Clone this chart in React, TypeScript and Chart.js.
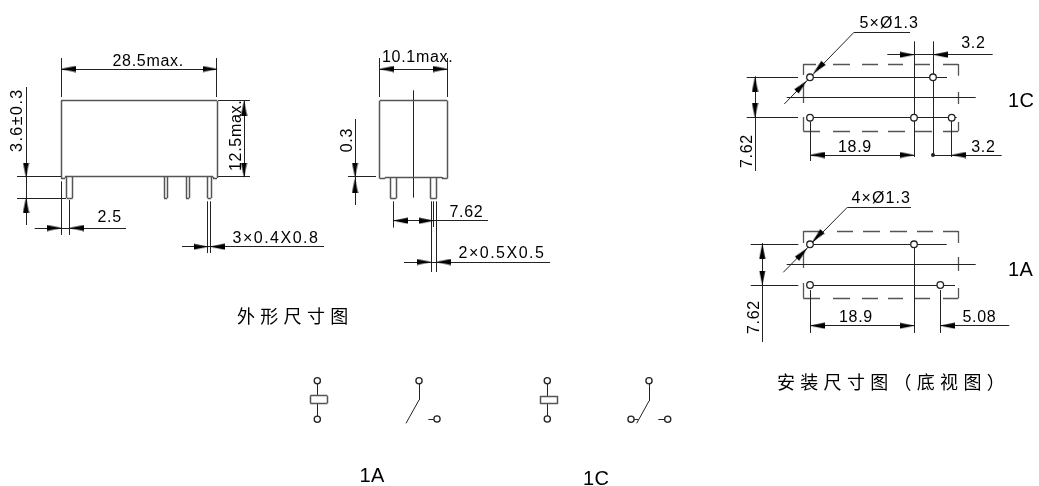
import React, { useEffect, useRef } from "react";
import { Chart, registerables } from "chart.js";

Chart.register(...registerables);

// Drawing segments in drawing units: [x1, y1, x2, y2]
const bodyLines = [
  // front view body
  [61, 100.7, 217, 100.7], [61, 100.7, 61, 178], [217, 100.7, 217, 178], [61, 178, 65, 178], [65, 178, 65, 176.7], [65, 176.7, 213, 176.7], [213, 176.7, 213, 178], [213, 178, 217, 178],
  // front view pins
  [66.7, 177, 66.7, 198], [72.7, 177, 72.7, 198], [66.7, 198, 72.7, 198],
  [164, 177, 164, 198], [167.3, 177, 167.3, 198], [164, 198, 167.3, 198],
  [186, 177, 186, 198], [189.3, 177, 189.3, 198], [186, 198, 189.3, 198],
  [207.6, 177, 207.6, 198], [211.2, 177, 211.2, 198], [207.6, 198, 211.2, 198],
  // side view body
  [379.7, 100.7, 447.3, 100.7], [379.7, 100.7, 379.7, 178.5], [447.3, 100.7, 447.3, 178.5], [379.7, 178.5, 385, 178.5], [385, 178.5, 385, 177], [385, 177, 442, 177], [442, 177, 442, 178.5], [442, 178.5, 447.3, 178.5],
  // side view pins
  [390.3, 177, 390.3, 198.3], [396.3, 177, 396.3, 198.3], [390.3, 198.3, 396.3, 198.3],
  [430.3, 177, 430.3, 198.3], [436.7, 177, 436.7, 198.3], [430.3, 198.3, 436.7, 198.3],
  // coil boxes
  [310.3, 395.7, 327.3, 395.7], [327.3, 395.7, 327.3, 403.3], [327.3, 403.3, 310.3, 403.3], [310.3, 403.3, 310.3, 395.7],
  [540.3, 396, 557.7, 396], [557.7, 396, 557.7, 403.7], [557.7, 403.7, 540.3, 403.7], [540.3, 403.7, 540.3, 396],
];

const thinLines = [
  // 28.5max
  [61, 58, 61, 97], [216.8, 58, 216.8, 97], [61, 69, 217, 69],
  // 12.5max
  [218, 100.7, 250, 100.7], [218, 176.7, 250, 176.7], [244, 101, 244, 177],
  // 3.6±0.3
  [26, 87, 26, 225], [17, 176.7, 61, 176.7], [17, 198, 66, 198],
  // 2.5
  [61, 181.7, 61, 235], [69.7, 200, 69.7, 235], [34.7, 228, 126, 228],
  // 3×0.4X0.8
  [207.7, 201.7, 207.7, 253], [210.3, 201.7, 210.3, 253], [182, 246.7, 324, 246.7],
  // 10.1max
  [379.7, 58, 379.7, 96.7], [447.3, 58, 447.3, 96.7], [380, 69, 447, 69],
  // side centre line
  [413.7, 90.7, 413.7, 197.3],
  // 0.3
  [355, 119, 355, 205], [348, 176.7, 376, 176.7],
  // 7.62 side
  [393.3, 201.7, 393.3, 227.3], [431, 201.7, 431, 271.7], [436.3, 201.7, 436.3, 271.7], [433.7, 201.7, 433.7, 227], [393.3, 220.7, 488, 220.7],
  // 2×0.5X0.5
  [404, 262, 550, 262],
  // 1C footprint
  [746.7, 77.3, 798, 77.3], [813, 77.3, 947, 77.3], [746.7, 117.7, 798, 117.7], [813, 117.7, 956.7, 117.7], [786.7, 97.7, 975.7, 97.7],
  [854, 32.3, 784.3, 104], [854, 32.3, 910, 32.3],
  [914, 41.7, 914, 156.7], [933, 41.7, 933, 155], [951.7, 121.7, 951.7, 156.7], [810, 121.7, 810, 161],
  [887.3, 54.7, 992.7, 54.7], [810, 155, 915, 155], [933, 155, 1001.7, 155], [755, 76.7, 755, 170.7],
  // 1A footprint
  [750.7, 244.3, 798.3, 244.3], [813, 244.3, 946.7, 244.3], [750.7, 285, 798.3, 285], [813, 285, 955, 285], [786.7, 264, 975.7, 264],
  [847.3, 207.3, 783.3, 272.3], [847.3, 207.3, 911, 207.3],
  [914, 248, 914, 332.7], [810, 290, 810, 332.7], [940.3, 290, 940.3, 332.7],
  [810, 325.7, 914, 325.7], [940.3, 325.7, 1009.3, 325.7], [762.3, 243, 762.3, 341.7],
  // schematic
  [317.3, 384, 317.3, 395.7], [317.3, 403.3, 317.3, 416],
  [419, 384, 419, 400], [419, 400, 406, 423.3], [428.3, 419, 433.7, 419],
  [547.3, 384, 547.3, 396], [547.3, 403.7, 547.3, 416],
  [649, 384, 649, 401], [649, 401, 636.7, 423.3], [634.3, 419.3, 638.3, 419.3], [658.3, 419.3, 664.4, 419.3],
];

const dashLines = [
  // 1C outline
  [803.3, 64, 816, 64], [833, 64, 850, 64], [862, 64, 878, 64], [888, 64, 903, 64], [915, 64, 930, 64], [943, 64, 958.3, 64],
  [803.3, 131, 820, 131], [833, 131, 850, 131], [862, 131, 878, 131], [888, 131, 905, 131], [915, 131, 932, 131], [943, 131, 958.3, 131],
  [803.3, 64, 803.3, 75], [803.3, 85, 803.3, 103], [803.3, 117, 803.3, 131],
  [958.3, 64, 958.3, 75.7], [958.3, 92, 958.3, 104], [958.3, 122, 958.3, 131],
  // 1A outline
  [803.3, 231, 820, 231], [837, 231, 853, 231], [863, 231, 880, 231], [890, 231, 907, 231], [917, 231, 933, 231], [943, 231, 958.3, 231],
  [803.3, 298.3, 820, 298.3], [833, 298.3, 850, 298.3], [862, 298.3, 878, 298.3], [888, 298.3, 903, 298.3], [915, 298.3, 930, 298.3], [943, 298.3, 958.3, 298.3],
  [803.3, 231, 803.3, 243], [803.3, 252, 803.3, 268], [803.3, 283, 803.3, 298.3],
  [958.3, 231, 958.3, 243], [958.3, 257, 958.3, 271], [958.3, 288, 958.3, 298.3],
];

// Hollow terminals and holes: [x, y, radius]
const holes = [
  [810, 77.3, 3.3], [933, 77.3, 3.3], [810, 117.7, 3.3], [914, 117.7, 3.3], [951.7, 117.7, 3.3],
  [810, 244.3, 3.3], [914, 244.3, 3.3], [810, 285, 3.3], [940.3, 285, 3.3],
  [317.3, 380.7, 3.1], [317.3, 419.3, 3.1], [419, 380.7, 3.1], [437, 419, 3.1],
  [547.3, 380.7, 3.1], [547.3, 419, 3.1], [649, 380.7, 3.1], [631, 419.3, 3.1], [667.7, 419.3, 3.1],
];

const dots = [[933, 155]];

// Arrowheads: [centre x, centre y, direction in degrees]
const arrows = [
  [68, 69, 180], [210, 69, 0], [244, 108, 270], [244, 170, 90],
  [26, 170, 90], [26, 205, 270], [54.5, 228, 0], [76.5, 228, 180], [201, 246.7, 0], [217, 246.7, 180],
  [386.5, 69, 180], [440.5, 69, 0], [355, 170, 90], [355, 185.5, 270], [400.3, 220.7, 180], [426.7, 220.7, 0], [424, 262, 0], [443.3, 262, 180],
  [818.3, 68.3, 134], [801.7, 86, 314], [907.3, 54.7, 0], [940, 54.7, 180], [817, 155, 180], [907, 155, 0], [958.7, 155, 180], [755, 84, 270], [755, 110.7, 90],
  [817.3, 236.7, 134], [802.3, 253.3, 314], [817, 325.7, 180], [907, 325.7, 0], [947.3, 325.7, 180], [762.3, 251, 270], [762.3, 278, 90],
];

// Texts: [text, x, y, rotation]
const dimensionTexts: [string, number, number, number][] = [
  ["28.5max.", 112.5, 66, 0], ["12.5max.", 241, 171, -90], ["3.6±0.3", 22, 152, -90], ["2.5", 97.5, 221.7, 0], ["3×0.4X0.8", 232.5, 243, 0],
  ["10.1max.", 382, 61.7, 0], ["0.3", 352.3, 152.3, -90], ["7.62", 449.5, 216.7, 0], ["2×0.5X0.5", 458.5, 258, 0],
  ["5×Ø1.3", 859.5, 27.7, 0], ["3.2", 961.2, 48.3, 0], ["18.9", 838, 151.7, 0], ["3.2", 971.2, 151.7, 0], ["7.62", 751.7, 168, -90],
  ["4×Ø1.3", 851.5, 202.7, 0], ["18.9", 839, 322.3, 0], ["5.08", 962.5, 322.3, 0], ["7.62", 759.3, 334, -90],
];
const typeTexts: [string, number, number, number][] = [
  ["1C", 1008, 106.5, 0], ["1A", 1008, 276, 0], ["1A", 359.5, 481.5, 0], ["1C", 583, 485, 0],
];
const captionTexts: [string, number, number, number][] = [
  ["外形尺寸图", 237, 322.5, 0], ["安装尺寸图（底视图）", 777, 389, 0],
];

// Axis-parallel strokes are centred on a device pixel so that they stay one pixel wide.
const pixelCentre = (v: number) => Math.floor(v) + 0.5;
const toPath = (segs: number[][]) =>
  segs.flatMap(([a, b, c, d]) => {
    const vertical = a === c;
    const horizontal = b === d;
    const x1 = vertical ? pixelCentre(a) : a;
    const x2 = vertical ? pixelCentre(c) : c;
    const y1 = horizontal ? pixelCentre(b) : b;
    const y2 = horizontal ? pixelCentre(d) : d;
    return [{ x: x1, y: y1 }, { x: x2, y: y2 }, { x: null, y: null }];
  });

function arrowImage(): HTMLCanvasElement {
  const c = document.createElement("canvas");
  c.width = 15;
  c.height = 7;
  const g = c.getContext("2d")!;
  g.fillStyle = "#000";
  g.beginPath();
  g.moveTo(0, 0.5);
  g.lineTo(15, 3.5);
  g.lineTo(0, 6.5);
  g.closePath();
  g.fill();
  return c;
}

const spacingFor = (t: string) => (t.includes("Ø") ? "1.1px" : /[×±]/.test(t) ? "1.5px" : "0.7px");

const textPlugin = {
  id: "drawingText",
  afterDatasetsDraw(chart: any) {
    const { ctx, scales } = chart;
    const put = (rows: [string, number, number, number][], font: string, spacing: (t: string) => string) => {
      rows.forEach(([t, x, y, r]) => {
        ctx.save();
        ctx.translate(scales.x.getPixelForValue(x), scales.y.getPixelForValue(y));
        ctx.rotate((r * Math.PI) / 180);
        ctx.font = font;
        (ctx as any).letterSpacing = spacing(t);
        ctx.fillStyle = "#000";
        ctx.textBaseline = "alphabetic";
        ctx.textAlign = "left";
        ctx.fillText(t, 0, 0);
        ctx.restore();
      });
    };
    put(dimensionTexts, '16px "Liberation Sans"', spacingFor);
    put(typeTexts, '20px "Liberation Sans"', () => "0.5px");
    put(captionTexts, '18px "Noto Sans CJK SC"', () => "5.3px");
  },
};

export default function App() {
  const ref = useRef<HTMLCanvasElement>(null);
  useEffect(() => {
    const head = arrowImage();
    const chart = new Chart(ref.current!, {
      type: "scatter",
      data: {
        datasets: [
          { label: "dots", order: 0, data: dots.map(([x, y]) => ({ x, y })), pointRadius: 2, pointBackgroundColor: "#222", pointBorderWidth: 0 },
          { label: "arrows", order: 1, data: arrows.map(([x, y]) => ({ x, y })), pointStyle: head, pointRotation: arrows.map((a) => a[2]), pointRadius: 7 },
          { label: "holes", order: 2, data: holes.map(([x, y]) => ({ x, y })), pointRadius: holes.map((h) => h[2]), pointBackgroundColor: "#fff", pointBorderColor: "#222", pointBorderWidth: 1.3 },
          { label: "body", order: 3, data: toPath(bodyLines), showLine: true, spanGaps: false, pointRadius: 0, borderColor: "#555", borderWidth: 1.5 },
          { label: "thin", order: 4, data: toPath(thinLines), showLine: true, spanGaps: false, pointRadius: 0, borderColor: "#222", borderWidth: 1 },
          { label: "dash", order: 5, data: toPath(dashLines), showLine: true, spanGaps: false, pointRadius: 0, borderColor: "#555", borderWidth: 1.3 },
        ] as any,
      },
      options: {
        animation: false,
        responsive: false,
        events: [],
        layout: { padding: 0, autoPadding: false },
        plugins: { legend: { display: false }, tooltip: { enabled: false } },
        scales: {
          x: { type: "linear", min: 0, max: 1039, display: false },
          y: { type: "linear", min: 0, max: 486, reverse: true, display: false },
        },
      },
      plugins: [textPlugin],
    });
    return () => chart.destroy();
  }, []);
  return (
    <canvas
      ref={ref}
      width={1039}
      height={486}
      style={{ position: "fixed", left: 0, top: 0, width: 1039, height: 486, background: "#fff" }}
    />
  );
}
